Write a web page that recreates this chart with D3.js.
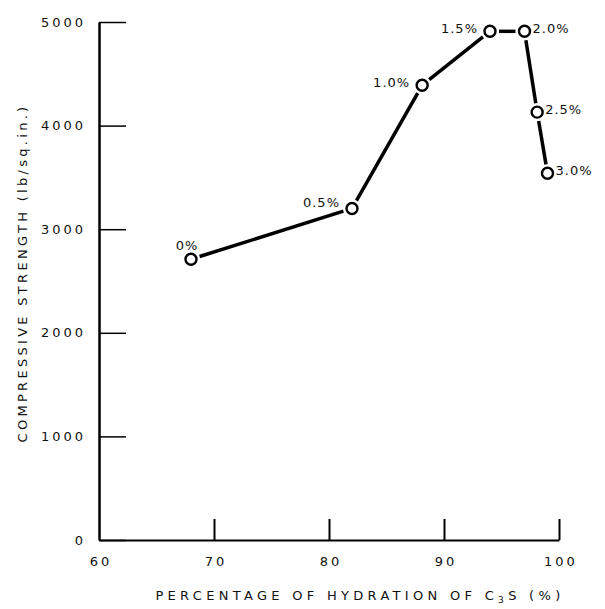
<!DOCTYPE html>
<html>
<head>
<meta charset="utf-8">
<script src="https://cdn.jsdelivr.net/npm/d3@7"></script>
<style>
  body { margin: 0; background: #fff; }
  text { font-family: "DejaVu Sans", sans-serif; fill: #111; }
</style>
</head>
<body>
<div id="chart"></div>
<script>
// data
var hydration = [68, 82, 88.1, 94, 97, 98.1, 99];
var strength = [2710, 3200, 4390, 4910, 4910, 4130, 3540];
var pointLabels = ["0%", "0.5%", "1.0%", "1.5%", "2.0%", "2.5%", "3.0%"];
var labelSide = ["above", "left", "left", "left", "right", "right", "right"];
var xTicks = [60, 70, 80, 90, 100];
var yTicks = [0, 1000, 2000, 3000, 4000, 5000];

var width = 605, height = 609;

var x = d3.scaleLinear().domain([60, 100]).range([99, 559]);
var y = d3.scaleLinear().domain([0, 5000]).range([540, 22]);

var svg = d3.select("#chart").append("svg")
    .attr("width", width)
    .attr("height", height);

// Y axis (ticks pointing into the plot)
var yAxis = d3.axisRight(y)
    .tickValues(yTicks)
    .tickSize(27)
    .tickSizeOuter(0)
    .tickFormat("");

var y_axis = svg.append("g")
    .attr("transform", "translate(" + x(60) + ",0)")
    .call(yAxis);
y_axis.select(".domain").attr("stroke", "#000").attr("stroke-width", 2.5);
y_axis.selectAll(".tick line").attr("stroke", "#000").attr("stroke-width", 1.5);

// X axis (ticks pointing up)
var xAxis = d3.axisTop(x)
    .tickValues(xTicks.filter(function(d) { return d > 60; }))
    .tickSize(21)
    .tickSizeOuter(0)
    .tickFormat("");

var x_axis = svg.append("g")
    .attr("transform", "translate(0," + y(0) + ")")
    .call(xAxis);
x_axis.select(".domain").attr("stroke", "#000").attr("stroke-width", 2);
x_axis.selectAll(".tick line").attr("stroke", "#000").attr("stroke-width", 2);

// tick labels
svg.selectAll(".ylab")
    .data(yTicks)
    .enter()
  .append("text")
    .attr("class", "ylab")
    .attr("x", 86)
    .attr("y", function(d) { return y(d); })
    .attr("dy", "0.35em")
    .attr("text-anchor", "end")
    .style("font-size", "13px")
    .style("letter-spacing", "3px")
    .text(function(d) { return d; });

svg.selectAll(".xlab")
    .data(xTicks)
    .enter()
  .append("text")
    .attr("class", "xlab")
    .attr("x", function(d) { return x(d) + 2; })
    .attr("y", y(0) + 26)
    .attr("text-anchor", "middle")
    .style("font-size", "13px")
    .style("letter-spacing", "3px")
    .text(function(d) { return d; });

// axis titles
var xt = svg.append("text")
    .attr("x", 360)
    .attr("y", 600)
    .attr("text-anchor", "middle")
    .style("font-size", "13px")
    .style("letter-spacing", "4.3px");
xt.append("tspan").text("PERCENTAGE OF HYDRATION OF C");
xt.append("tspan").attr("dy", 3).style("font-size", "9px").text("3");
xt.append("tspan").attr("dy", -3).text("S (%)");

svg.append("text")
    .attr("transform", "translate(27,273) rotate(-90)")
    .attr("text-anchor", "middle")
    .style("font-size", "13px")
    .style("letter-spacing", "3.3px")
    .text("COMPRESSIVE STRENGTH (lb/sq.in.)");

// line, drawn as segments that stop short of the markers
var pts = hydration.map(function(h, i) { return [h, strength[i]]; });
var segs = d3.pairs(pts).map(function(p) {
    var x1 = x(p[0][0]), y1 = y(p[0][1]), x2 = x(p[1][0]), y2 = y(p[1][1]);
    var len = Math.hypot(x2 - x1, y2 - y1), gap = 9;
    var ux = (x2 - x1) / len, uy = (y2 - y1) / len;
    return [x1 + ux * gap, y1 + uy * gap, x2 - ux * gap, y2 - uy * gap];
});

svg.selectAll(".seg")
    .data(segs)
    .enter()
  .append("line")
    .attr("class", "seg")
    .attr("x1", function(d) { return d[0]; })
    .attr("y1", function(d) { return d[1]; })
    .attr("x2", function(d) { return d[2]; })
    .attr("y2", function(d) { return d[3]; })
    .attr("stroke", "#000")
    .attr("stroke-width", 3.5);

// markers
svg.selectAll(".pt")
    .data(pts)
    .enter()
  .append("circle")
    .attr("class", "pt")
    .attr("cx", function(d) { return x(d[0]); })
    .attr("cy", function(d) { return y(d[1]); })
    .attr("r", 5.5)
    .attr("fill", "#fff")
    .attr("stroke", "#000")
    .attr("stroke-width", 2.4);

// point labels
svg.selectAll(".plab")
    .data(pts)
    .enter()
  .append("text")
    .attr("class", "plab")
    .attr("x", function(d, i) {
        var side = labelSide[i];
        if (side == "above") return x(d[0]) - 4;
        if (side == "left") return x(d[0]) - 12;
        return x(d[0]) + 8;
    })
    .attr("y", function(d, i) {
        var side = labelSide[i];
        if (side == "above") return y(d[1]) - 14;
        if (i == 1) return y(d[1]) - 6;
        return y(d[1]) - 3;
    })
    .attr("dy", "0.35em")
    .attr("text-anchor", function(d, i) {
        var side = labelSide[i];
        if (side == "above") return "middle";
        return side == "left" ? "end" : "start";
    })
    .style("font-size", "13px")
    .style("letter-spacing", "1px")
    .text(function(d, i) { return pointLabels[i]; });
</script>
</body>
</html>
